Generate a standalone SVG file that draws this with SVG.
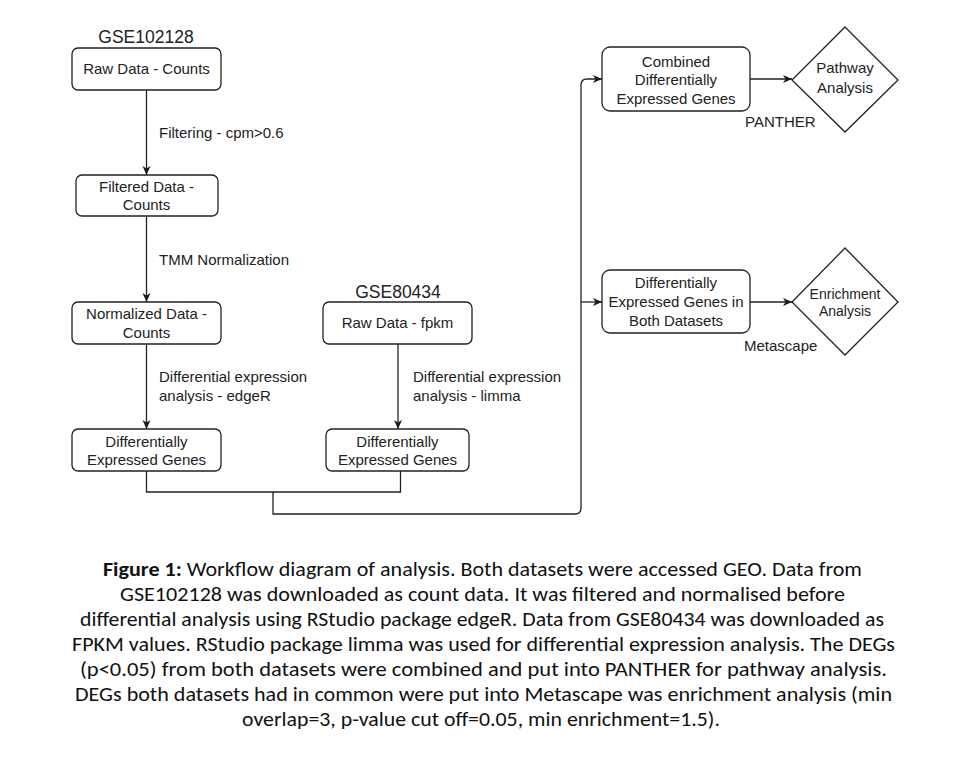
<svg xmlns="http://www.w3.org/2000/svg" width="957" height="761" viewBox="0 0 957 761">
<defs>
<marker id="ah" markerWidth="10" markerHeight="10" viewBox="0 0 10 10" refX="9" refY="5" orient="auto" markerUnits="userSpaceOnUse">
<path d="M0,1 L9,5 L0,9 L2.5,5 Z" fill="#1a1a1a"/>
</marker>
<style>
.n rect, .n path { fill:#ffffff; stroke:#222; stroke-width:1.3; }
.t { font-family:"Liberation Sans", Arial, sans-serif; font-size:15px; fill:#222; text-anchor:middle; }
.l { font-family:"Liberation Sans", Arial, sans-serif; font-size:15px; fill:#222; }
.g { font-family:"Liberation Sans", Arial, sans-serif; font-size:17.5px; fill:#222; text-anchor:middle; }
.c { fill:none; stroke:#222; stroke-width:1.3; }
.a { marker-end:url(#ah); }
.cap { font-family:Calibri, Carlito, Lato, "Open Sans", sans-serif; font-size:19.5px; fill:#111; text-anchor:middle; }
</style>
</defs>
<rect width="957" height="761" fill="#ffffff"/>

<g id="connectors">
<path class="c a" d="M146.5,90 V175"/>
<path class="c a" d="M146.5,216 V302"/>
<path class="c a" d="M146.5,344 V429"/>
<path class="c a" d="M398,344 V429"/>
<path class="c" d="M146.5,471 V492 H400.5 V471"/>
<path class="c a" d="M273,492 V514 H575 Q581,514 581,508 V85 Q581,79 587,79 H602"/>
<path class="c a" d="M581,302 H602"/>
<path class="c a" d="M750,79 H792"/>
<path class="c a" d="M750,302 H792"/>
</g>

<g id="labels">
<text class="g" x="146" y="43">GSE102128</text>
<text class="g" x="398" y="298">GSE80434</text>
<text class="l" x="159" y="138">Filtering - cpm&gt;0.6</text>
<text class="l" x="159" y="265">TMM Normalization</text>
<text class="l" x="159" y="382">Differential expression</text>
<text class="l" x="159" y="401">analysis - edgeR</text>
<text class="l" x="413" y="382">Differential expression</text>
<text class="l" x="413" y="401">analysis - limma</text>
<text class="l" x="745" y="127">PANTHER</text>
<text class="l" x="744" y="351">Metascape</text>
</g>

<g id="raw-counts" class="n">
<rect x="72" y="48" width="149" height="42" rx="6"/>
<text class="t" x="146.5" y="74">Raw Data - Counts</text>
</g>
<g id="filtered" class="n">
<rect x="76" y="175" width="142" height="41" rx="6"/>
<text class="t" x="146.5" y="192">Filtered Data -</text>
<text class="t" x="146.5" y="210">Counts</text>
</g>
<g id="normalized" class="n">
<rect x="72" y="302" width="149" height="42" rx="6"/>
<text class="t" x="146.5" y="319">Normalized Data -</text>
<text class="t" x="146.5" y="338">Counts</text>
</g>
<g id="raw-fpkm" class="n">
<rect x="323" y="302" width="149" height="42" rx="6"/>
<text class="t" x="397.5" y="328">Raw Data - fpkm</text>
</g>
<g id="deg-left" class="n">
<rect x="72" y="429" width="149" height="42" rx="6"/>
<text class="t" x="146.5" y="447">Differentially</text>
<text class="t" x="146.5" y="465">Expressed Genes</text>
</g>
<g id="deg-right" class="n">
<rect x="326" y="429" width="143" height="42" rx="6"/>
<text class="t" x="397.5" y="447">Differentially</text>
<text class="t" x="397.5" y="465">Expressed Genes</text>
</g>
<g id="combined" class="n">
<rect x="602" y="47" width="148" height="64" rx="8"/>
<text class="t" x="676" y="67">Combined</text>
<text class="t" x="676" y="85">Differentially</text>
<text class="t" x="676" y="104">Expressed Genes</text>
</g>
<g id="both" class="n">
<rect x="602" y="270" width="148" height="63" rx="8"/>
<text class="t" x="676" y="288">Differentially</text>
<text class="t" x="676" y="307">Expressed Genes in</text>
<text class="t" x="676" y="326">Both Datasets</text>
</g>
<g id="pathway" class="n">
<path d="M845,27 L898,80 L845,132 L792,80 Z"/>
<text class="t" x="845" y="73">Pathway</text>
<text class="t" x="845" y="93">Analysis</text>
</g>
<g id="enrichment" class="n">
<path d="M845,248 L898,302 L845,355 L792,302 Z"/>
<text class="t" x="845" y="299" style="font-size:14px">Enrichment</text>
<text class="t" x="845" y="316" style="font-size:14px">Analysis</text>
</g>

<g id="caption">
<text class="cap" x="482.5" y="576" textLength="759" lengthAdjust="spacingAndGlyphs"><tspan font-weight="bold">Figure 1:</tspan> Workflow diagram of analysis. Both datasets were accessed GEO. Data from</text>
<text class="cap" x="482.5" y="601" textLength="725" lengthAdjust="spacingAndGlyphs">GSE102128 was downloaded as count data. It was filtered and normalised before</text>
<text class="cap" x="482" y="626" textLength="804" lengthAdjust="spacingAndGlyphs">differential analysis using RStudio package edgeR. Data from GSE80434 was downloaded as</text>
<text class="cap" x="483.5" y="651" textLength="823" lengthAdjust="spacingAndGlyphs">FPKM values. RStudio package limma was used for differential expression analysis. The DEGs</text>
<text class="cap" x="483.5" y="676" textLength="807" lengthAdjust="spacingAndGlyphs">(p&lt;0.05) from both datasets were combined and put into PANTHER for pathway analysis.</text>
<text class="cap" x="483.5" y="701" textLength="817" lengthAdjust="spacingAndGlyphs">DEGs both datasets had in common were put into Metascape was enrichment analysis (min</text>
<text class="cap" x="481" y="726" textLength="478" lengthAdjust="spacingAndGlyphs">overlap=3, p-value cut off=0.05, min enrichment=1.5).</text>
</g>
</svg>
